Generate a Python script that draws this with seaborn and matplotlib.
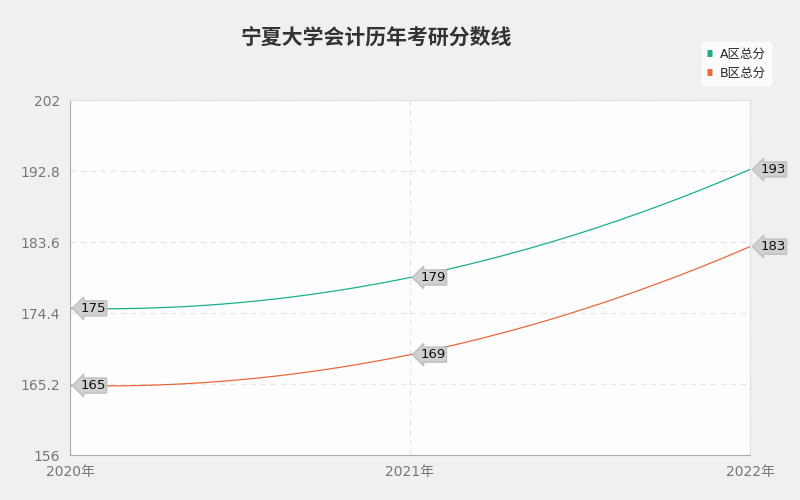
import numpy as np
import pandas as pd
import matplotlib.pyplot as plt
import seaborn as sns

years = ["2020年", "2021年", "2022年"]
score_a = [175, 179, 193]
score_b = [165, 169, 183]
yticks = [156, 165.2, 174.4, 183.6, 192.8, 202]

sns.set_style("white")
plt.rcParams["font.family"] = ["DejaVu Sans", "Noto Sans CJK SC"]

fig = plt.figure(figsize=(8, 5), dpi=100, facecolor="#f0f0f0")
ax = fig.add_axes([0.0875, 0.09, 0.85, 0.71])
ax.set_facecolor("#fdfdfd")

colors = {"A区总分": "#1aaf8b", "B区总分": "#e8693c"}
x = np.arange(len(years))
xs = np.linspace(0, 2, 200)
for name, vals in [("A区总分", score_a), ("B区总分", score_b)]:
    # smooth curve through the three points
    coef = np.polyfit(x, vals, 2)
    df = pd.DataFrame({"x": xs, "y": np.polyval(coef, xs)})
    sns.lineplot(data=df, x="x", y="y", ax=ax, color=colors[name], lw=0.9, label=name)
    for xi, v in zip(x, vals):
        ax.annotate(str(v), (xi, v), xytext=(xi + 0.03, v), fontsize=9.5,
                    va="center", ha="left", color="#111111",
                    bbox=dict(boxstyle="larrow,pad=0.08", fc="#d0d0d0", ec="#c0c0c0"))

ax.set_xlim(0, 2)
ax.set_ylim(156, 202)
ax.set_yticks(yticks)
ax.set_yticklabels([f"{t:g}" for t in yticks], color="#777777", fontsize=10)
ax.set_xticks(x)
ax.set_xticklabels(years, color="#777777", fontsize=10)
ax.set_xlabel("")
ax.set_ylabel("")
ax.grid(True, ls=(0, (5, 4)), color="#e4e4e4", lw=0.8)
for s in ["top", "right"]:
    ax.spines[s].set_color("#e0e0e0")
for s in ["left", "bottom"]:
    ax.spines[s].set_color("#aaaaaa")

fig.text(0.47, 0.925, "宁夏大学会计历年考研分数线", fontsize=15, ha="center",
         va="center", color="#333333", fontweight="bold",
         family=["Noto Sans CJK SC", "DejaVu Sans"])
leg = ax.legend(loc="upper right", bbox_to_anchor=(1.04, 1.18), frameon=True,
                fontsize=9, handlelength=0.4, handletextpad=0.6,
                prop={"family": ["DejaVu Sans", "Noto Sans CJK SC"], "size": 9})
leg.get_frame().set_edgecolor("white")
for h in leg.get_lines():
    h.set_linewidth(5)
    h.set_solid_capstyle("butt")

fig.savefig("out.png", facecolor=fig.get_facecolor())
